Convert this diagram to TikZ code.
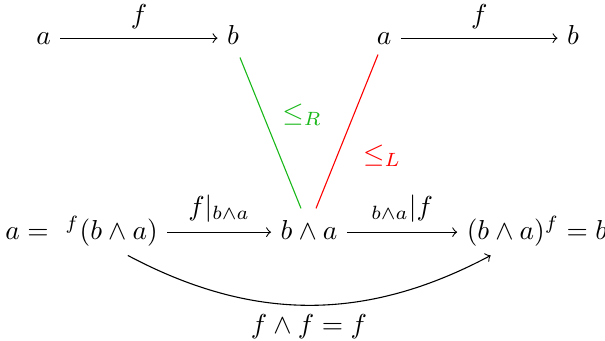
\documentclass[tikz,border=0pt]{standalone}
\usetikzlibrary{calc}
\definecolor{lgreen}{rgb}{0.1,0.72,0.1}
\begin{document}
\begin{tikzpicture}[x=0.365pt,y=-0.365pt,
  obj/.style={anchor=base,inner sep=3.3pt},
  arr/.style={-to},
  lab/.style={inner sep=3.3pt}]
\useasboundingbox (0,0) rectangle (605,341);
% top row
\node[obj] (a1) at (43.5,45) {$a$};
\node[obj] (b1) at (233,45) {$b$};
\node[obj] (a2) at (384,45) {$a$};
\node[obj] (b2) at (573,45) {$b$};
% bottom row
\node[obj] (L) at (81.5,239) {$a = \ {}^{f}(b\wedge a)$};
\node[obj] (M) at (309,239) {$b\wedge a$};
\node[obj] (R) at (537,239) {$(b\wedge a)^{f} = b$};
% arrows
\draw[arr] ($(a1.base east)+(0,-6.85)$) -- ($(b1.base west)+(0,-6.85)$) node[midway,above,lab] {$f$};
\draw[arr] ($(a2.base east)+(0,-6.85)$) -- ($(b2.base west)+(0,-6.85)$) node[midway,above,lab] {$f$};
\draw[arr] ($(L.base east)+(0,-6.85)$) -- ($(M.base west)+(0,-6.85)$) node[midway,above,lab] {$f|_{b\wedge a}$};
\draw[arr] ($(M.base east)+(0,-6.85)$) -- ($(R.base west)+(0,-6.85)$) node[midway,above,lab] {${}_{b\wedge a}|f$};
\draw[arr] (L) to[bend right=28] (R);
\node[anchor=base,inner sep=0pt] (ff) at (309,333) {$f\wedge f = f$};
% order lines
\draw[lgreen] ($(b1.south)+(7,3)$) -- ($(M.north)+(-8,-2)$) node[pos=0.38,anchor=west,xshift=3.5pt,text=lgreen] {$\leq_R$};
\draw[red] ($(a2.south)+(-6,0)$) -- ($(M.north)+(7,-2)$) node[pos=0.66,anchor=west,xshift=6pt,text=red] {$\leq_L$};
\end{tikzpicture}
\end{document}
